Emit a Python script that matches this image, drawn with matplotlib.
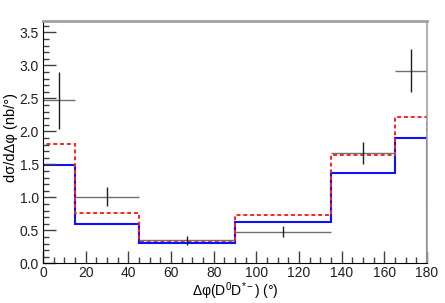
import matplotlib
matplotlib.use("Agg")
import matplotlib.pyplot as plt
from matplotlib.ticker import MultipleLocator

plt.rcParams['font.family'] = ['Liberation Sans', 'DejaVu Sans']
plt.rcParams['mathtext.fontset'] = 'custom'
plt.rcParams['mathtext.rm'] = 'Liberation Sans'
plt.rcParams['mathtext.it'] = 'Liberation Sans'
plt.rcParams['mathtext.default'] = 'regular'

# bin edges in degrees
edges = [0, 15, 45, 90, 135, 165, 180]
centers = [7.5, 30, 67.5, 112.5, 150, 172.5]
half_w = [7.5, 15, 22.5, 22.5, 15, 7.5]

# measured points
data_y = [2.47, 1.01, 0.35, 0.48, 1.67, 2.92]
data_err = [0.43, 0.14, 0.07, 0.085, 0.17, 0.33]

# model predictions
blue_vals = [1.49, 0.59, 0.31, 0.62, 1.37, 1.90]
red_vals = [1.81, 0.76, 0.34, 0.74, 1.64, 2.22]

fig = plt.figure(figsize=(4.45, 3.03), dpi=100)
ax = fig.add_axes([0.0966, 0.131, 0.863, 0.801])

ax.stairs(blue_vals, edges, color='#1010ff', lw=1.5)
ax.stairs(red_vals, edges, color='#ff2020', lw=1.4, linestyle=(0, (2, 1.5)))

ax.errorbar(centers, data_y, xerr=half_w, fmt='none', ecolor='#707070',
            elinewidth=1.0, capsize=0)
ax.errorbar(centers, data_y, yerr=data_err, fmt='none', ecolor='#202020',
            elinewidth=1.0, capsize=0)

ax.set_xlim(0, 180)
ax.set_ylim(0, 3.68)
ax.xaxis.set_major_locator(MultipleLocator(20))
ax.xaxis.set_minor_locator(MultipleLocator(5))
ax.yaxis.set_major_locator(MultipleLocator(0.5))
ax.yaxis.set_minor_locator(MultipleLocator(0.1))
ax.yaxis.set_major_formatter(plt.FormatStrFormatter('%.1f'))
ax.tick_params(which='both', direction='in', top=False, right=False,
               labelsize=10, color='#404040', labelcolor='#202020')
ax.tick_params(which='major', length=9, width=1)
ax.tick_params(which='minor', length=4.5, width=1)
ax.tick_params(axis='x', pad=2)
ax.tick_params(axis='y', pad=3)

ax.spines['top'].set_color('#a0a0a0')
ax.spines['top'].set_linewidth(2)
ax.spines['right'].set_color('#a0a0a0')
ax.spines['right'].set_linewidth(1.2)

ax.set_xlabel('Δφ(D$^0$D$^{*-}$) (°)', fontsize=10)
ax.set_ylabel('dσ/dΔφ (nb/°)', fontsize=10.5)
ax.xaxis.set_label_coords(0.5, -0.072)
ax.yaxis.set_label_coords(-0.066, 0.52)

fig.savefig('out.png', dpi=100)
